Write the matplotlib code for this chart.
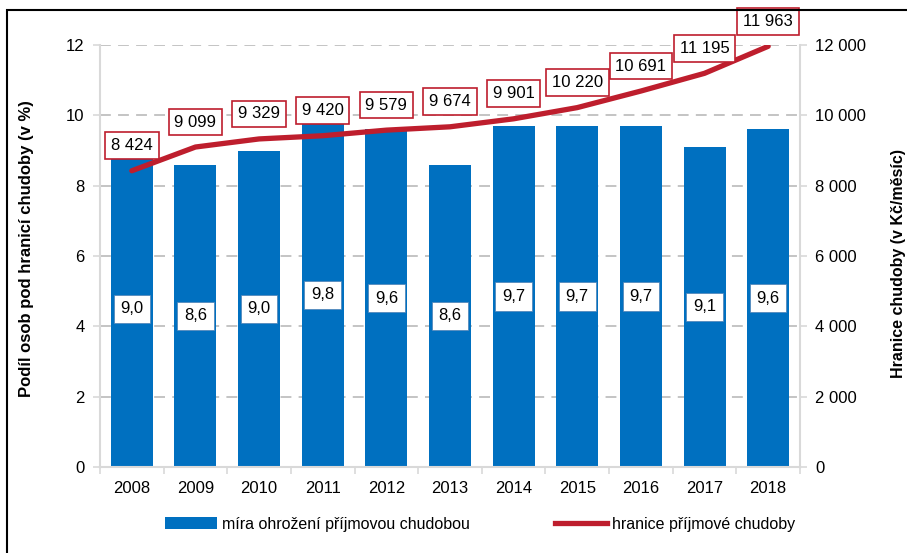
import matplotlib
matplotlib.use("Agg")
import matplotlib.pyplot as plt
from matplotlib.patches import Rectangle, Patch
from matplotlib.lines import Line2D
from matplotlib.ticker import FuncFormatter, MultipleLocator, FixedLocator

plt.rcParams['font.family'] = ['Liberation Sans', 'DejaVu Sans']

years = ['2008', '2009', '2010', '2011', '2012', '2013', '2014', '2015', '2016', '2017', '2018']
rate = [9.0, 8.6, 9.0, 9.8, 9.6, 8.6, 9.7, 9.7, 9.7, 9.1, 9.6]
threshold = [8424, 9099, 9329, 9420, 9579, 9674, 9901, 10220, 10691, 11195, 11963]

bar_label = 'míra ohrožení příjmovou chudobou'
line_label = 'hranice příjmové chudoby'
ylabel_left = 'Podíl osob pod hranicí chudoby (v %)'
ylabel_right = 'Hranice chudoby (v Kč/měsíc)'

BLUE = '#0070C0'
RED = '#BE1E2D'
GRID = '#BFBFBF'
SPINE = '#D9D9D9'
FS = 12

W, H = 907, 553
fig = plt.figure(figsize=(W / 100, H / 100), dpi=100)
ax = fig.add_axes([100 / W, 86 / H, 700 / W, 422 / H])
ax2 = ax.twinx()

x = list(range(len(years)))
ax.bar(x, rate, width=0.66, color=BLUE, zorder=2)
ax.set_xlim(-0.5, len(years) - 0.5)
ax.set_ylim(0, 12)
ax.yaxis.set_major_locator(MultipleLocator(2))
ax.grid(axis='y', color=GRID, linestyle=(0, (6, 4)), linewidth=1.3, zorder=0)
ax.set_axisbelow(True)

for i, v in enumerate(rate):
    ax.text(i, v / 2, f'{v:.1f}'.replace('.', ','), ha='center', va='center',
            fontsize=FS, zorder=5,
            bbox=dict(boxstyle='square,pad=0.4', fc='white', ec='#4A7FB5', lw=0.5))

ax.set_xticks(x)
ax.set_xticklabels(years, fontsize=FS)
ax.xaxis.set_minor_locator(FixedLocator([i - 0.5 for i in range(len(years) + 1)]))
ax.tick_params(axis='x', which='major', length=0, pad=10)
ax.tick_params(axis='x', which='minor', length=5, color=SPINE, width=1.2)
ax.tick_params(axis='y', length=5, color=SPINE, width=1.2, labelsize=FS, pad=6)

for s in ['top', 'right']:
    ax.spines[s].set_visible(False)
for s in ['left', 'bottom']:
    ax.spines[s].set_color(SPINE)
    ax.spines[s].set_linewidth(1.5)

ax2.plot(x, threshold, color=RED, linewidth=3.8, solid_capstyle='round', zorder=4)
ax2.set_ylim(0, 12000)
ax2.yaxis.set_major_locator(MultipleLocator(2000))
ax2.yaxis.set_major_formatter(FuncFormatter(lambda v, p: f'{int(v):,}'.replace(',', ' ')))
ax2.tick_params(axis='y', length=5, color=SPINE, width=1.2, labelsize=FS, pad=6)
for s in ['top', 'left', 'bottom']:
    ax2.spines[s].set_visible(False)
ax2.spines['right'].set_color(SPINE)
ax2.spines['right'].set_linewidth(1.5)

for i, v in enumerate(threshold):
    ax2.annotate(f'{v:,}'.replace(',', ' '), (i, v), xytext=(0, 18), textcoords='offset points',
                 ha='center', va='center', fontsize=FS, annotation_clip=False, zorder=6,
                 bbox=dict(boxstyle='square,pad=0.35', fc='white', ec=RED, lw=1.2))

fig.text(27 / W, 1 - 249 / H, ylabel_left, rotation=90, ha='center', va='center',
         fontsize=FS, fontweight='bold')
fig.text(899 / W, 1 - 263 / H, ylabel_right, rotation=90, ha='center', va='center',
         fontsize=11.5, fontweight='bold')

handles = [Patch(facecolor=BLUE, edgecolor='none'),
           Line2D([0], [0], color=RED, linewidth=3.8)]
fig.legend(handles, [bar_label, line_label], loc='center',
           bbox_to_anchor=(480 / W, 1 - 524 / H), ncol=2, frameon=False,
           fontsize=11.5, handlelength=3.3, handletextpad=0.3, columnspacing=5.3)

fig.patches.append(Rectangle((7 / W, -0.1), 1.2, 1 - 10 / H + 0.1, transform=fig.transFigure,
                             fill=False, ec='black', lw=1.5))

fig.savefig('out.png', dpi=100)
